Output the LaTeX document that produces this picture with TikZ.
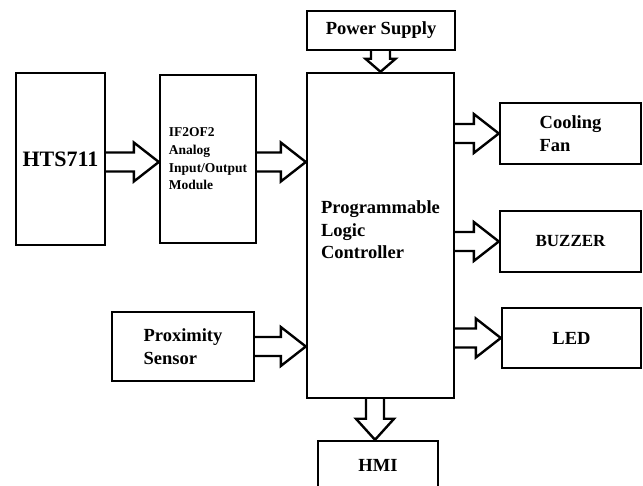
\documentclass[tikz,border=0pt]{standalone}
\usepackage{fontspec}
\setmainfont{Liberation Serif}
\usetikzlibrary{calc}

\begin{document}
\begin{tikzpicture}[x=1pt, y=-1pt,
    block/.style = {draw, line width = 2.4pt, rectangle, align = left, inner sep = 0pt,
                    font = \fontsize{18.5}{22.5}\selectfont\bfseries},
    fat/.style = {line width = 2.4pt, line join = miter},
    fat right/.style = {to path = {let \p1 = (\tikztostart), \p2 = (\tikztotarget) in
        (\x1, \y2 + 9.5pt) -- (\x2 - 25pt, \y2 + 9.5pt) -- (\x2 - 25pt, \y2 + 19.5pt) -- (\x2, \y2)
        -- (\x2 - 25pt, \y2 - 19.5pt) -- (\x2 - 25pt, \y2 - 9.5pt) -- (\x1, \y2 - 9.5pt)}},
    fat down/.style n args = {3}{to path = {let \p1 = (\tikztostart), \p2 = (\tikztotarget) in
        (\x2 - #1, \y1) -- (\x2 - #1, \y2 + #3) -- (\x2 - #2, \y2 + #3) -- (\x2, \y2)
        -- (\x2 + #2, \y2 + #3) -- (\x2 + #1, \y2 + #3) -- (\x2 + #1, \y1)}}]
        \useasboundingbox (0, 0) rectangle (643, 486);

        % Blocks
        \node [block, minimum width = 89pt, minimum height = 172pt, font = \fontsize{22}{26}\selectfont\bfseries] (hts) at (60.5, 159) {HTS711};
        \node [block, minimum width = 96pt, minimum height = 168pt, font = \fontsize{13.5}{17.7}\selectfont\bfseries] (ifm) at (208, 159) {IF2OF2\\Analog\\Input/Output\\Module};
        \node [block, minimum width = 147pt, minimum height = 325pt] (plc) at (380.5, 235.5) {};
        \node [align = left, font = \fontsize{18.5}{22.5}\selectfont\bfseries] (plctext) at (380.5, 230) {Programmable\\Logic\\Controller};
        \node [block, minimum width = 148pt, minimum height = 39pt] (power) at (381, 30.5) {Power Supply};
        \node [block, minimum width = 141pt, minimum height = 61pt] (fan) at (570.5, 133.5) {Cooling\\Fan};
        \node [block, minimum width = 141pt, minimum height = 61pt, font = \fontsize{17}{20}\selectfont\bfseries] (buzzer) at (570.5, 241.5) {\raisebox{-4pt}{BUZZER}};
        \node [block, minimum width = 139pt, minimum height = 60pt] (led) at (571.5, 338) {LED};
        \node [block, minimum width = 142pt, minimum height = 69pt] (prox) at (183, 346.5) {Proximity\\Sensor};
        \node [block, minimum width = 120pt, minimum height = 48pt] (hmi) at (378, 465) {HMI};

        % Block arrows
        \draw [fat] (hts.east) to [fat right] ([yshift = -3pt] ifm.west);
        \draw [fat] (ifm.east) to [fat right] ([yshift = -3pt] plc.west |- ifm.east);
        \draw [fat] (prox.east) to [fat right] (plc.west |- prox.east);
        \draw [fat] (plc.east |- fan.west) to [fat right] (fan.west);
        \draw [fat] (plc.east |- buzzer.west) to [fat right] (buzzer.west);
        \draw [fat] (plc.east |- led.west) to [fat right] (led.west);
        \draw [fat] (power.south) to [fat down = {9.5pt}{15pt}{13pt}] (plc.north);
        \draw [fat] (plc.south) to [fat down = {9pt}{19pt}{21pt}] ([xshift = -3pt] hmi.north);

    \end{tikzpicture}
\end{document}
